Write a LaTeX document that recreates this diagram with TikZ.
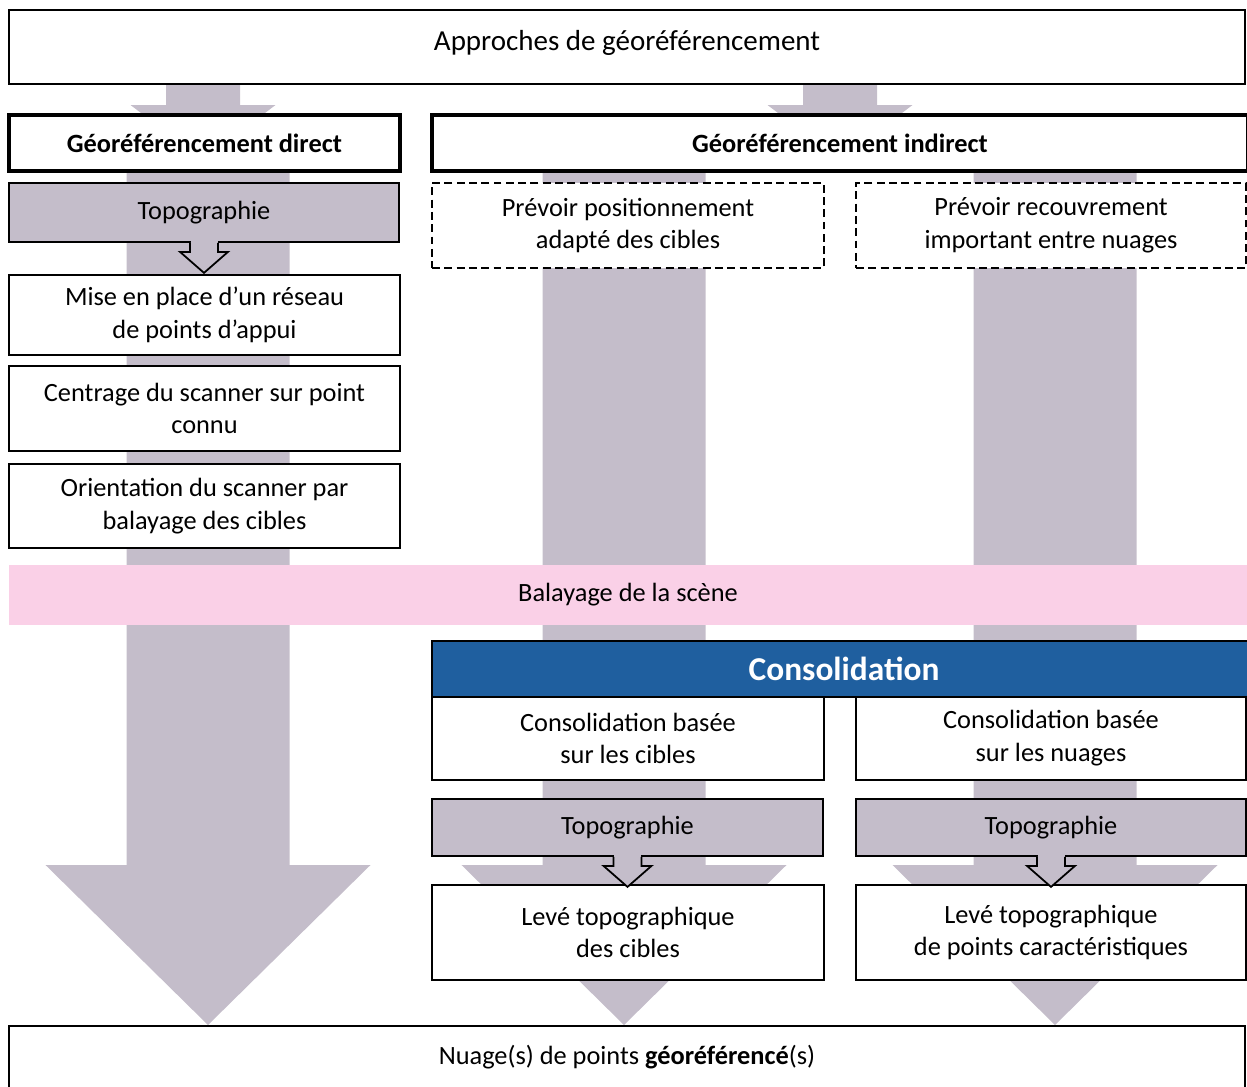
\documentclass[tikz,border=0pt]{standalone}
\usepackage{fontspec}
\setmainfont{Carlito}
\usetikzlibrary{calc,backgrounds}
\definecolor{arrowgrey}{HTML}{C4BDCA}
\definecolor{scanpink}{HTML}{FAD0E7}
\definecolor{consblue}{HTML}{1F5F9F}

\begin{document}
\begin{tikzpicture}[
x=0.02cm, y=-0.02cm,
font=\fontsize{15}{18.7}\selectfont,
box/.style={draw, line width=1pt, fill=white, align=center, inner sep=0pt},
headbox/.style={box, line width=2.2pt, minimum height=1.12cm, font=\fontsize{15}{18.7}\selectfont\bfseries},
planbox/.style={box, dash pattern=on 4.5pt off 2.5pt, minimum height=1.7cm},
topobox/.style={box, fill=arrowgrey},
bigarrow/.style={fill=arrowgrey},
hint/.style={draw, line width=1pt, fill=arrowgrey, line join=miter}
]
\clip (0,0) rectangle (1247,1086);
% top of the chart
\node[box, minimum width=24.72cm, minimum height=1.48cm, text depth=8pt,
  font=\fontsize{16.5}{20}\selectfont] (appr) at (627,47) {Approches de géoréférencement};
\node[headbox, minimum width=7.82cm] (direct) at (204.5,143) {Géoréférencement direct};
\node[headbox, minimum width=16.32cm] (indirect) at (840,143) {Géoréférencement indirect};
% direct branch
\node[topobox, minimum width=7.8cm, minimum height=1.18cm] (topoA) at (204,212.5) {Topographie};
\node[box, minimum width=7.82cm, minimum height=1.6cm] (reseau) at (204.5,315) {Mise en place d’un réseau\\de points d’appui};
\node[box, minimum width=7.82cm, minimum height=1.7cm] (centrage) at (204.5,408.5) {Centrage du scanner sur point\\connu};
\node[box, minimum width=7.82cm, minimum height=1.68cm] (orient) at (204.5,506) {Orientation du scanner par\\balayage des cibles};
% indirect branch
\node[planbox, minimum width=7.84cm] (cibles) at (628,225.5) {Prévoir positionnement\\adapté des cibles};
\node[planbox, minimum width=7.8cm] (recouv) at (1051,225.5) {Prévoir recouvrement\\important entre nuages};
\node[fill=scanpink, inner sep=0pt, minimum width=24.76cm, minimum height=1.2cm] (scan) at (628,595) {Balayage de la scène};
\node[draw, line width=1pt, fill=consblue, text=white, inner sep=0pt, minimum width=16.48cm, minimum height=1.12cm,
  font=\fontsize{19}{22}\selectfont\bfseries] (consol) at (844,669) {Consolidation};
\node[box, minimum width=7.84cm, minimum height=1.66cm] (consA) at (628,738.5) {Consolidation basée\\sur les cibles};
\node[box, minimum width=7.8cm, minimum height=1.66cm] (consB) at (1051,738.5) {Consolidation basée\\sur les nuages};
\node[topobox, minimum width=7.82cm, minimum height=1.14cm] (topoB) at (627.5,827.5) {Topographie};
\node[topobox, minimum width=7.8cm, minimum height=1.14cm] (topoC) at (1051,827.5) {Topographie};
\node[box, minimum width=7.84cm, minimum height=1.9cm] (leveA) at (628,932.5) {Levé topographique\\des cibles};
\node[box, minimum width=7.8cm, minimum height=1.9cm] (leveB) at (1051,932.5) {Levé topographique\\de points caractéristiques};
% result
\node[box, minimum width=24.72cm, minimum height=1.24cm] (nuage) at (627,1057) {Nuage(s) de points \textbf{géoréférencé}(s)};
% block arrows behind the boxes
\begin{scope}[on background layer]
\foreach \cx in {208,624,1055}
  \fill[bigarrow] (\cx-81.5,140) -- (\cx+81.5,140) -- (\cx+81.5,865) -- (\cx+162.5,865)
    -- (\cx,1025) -- (\cx-162.5,865) -- (\cx-81.5,865) -- cycle;
\foreach \cx in {203,840}
  \fill[bigarrow] (\cx-37,84) -- (\cx+37,84) -- (\cx+37,105) -- (\cx+72.5,105)
    -- (\cx,160) -- (\cx-72.5,105) -- (\cx-37,105) -- cycle;
\end{scope}
% small arrows under each Topographie
\foreach \n in {topoA,topoB,topoC} {
  \fill[arrowgrey] ($(\n.south)+(-13.5,-2)$) rectangle ($(\n.south)+(13.5,2)$);
  \filldraw[hint] ($(\n.south)+(-14,0)$) -- ++(0,9) -- ++(-10,0) -- ($(\n.south)+(0,30)$)
    -- ($(\n.south)+(24,9)$) -- ++(-10,0) -- ++(0,-9);
}
\end{tikzpicture}
\end{document}
